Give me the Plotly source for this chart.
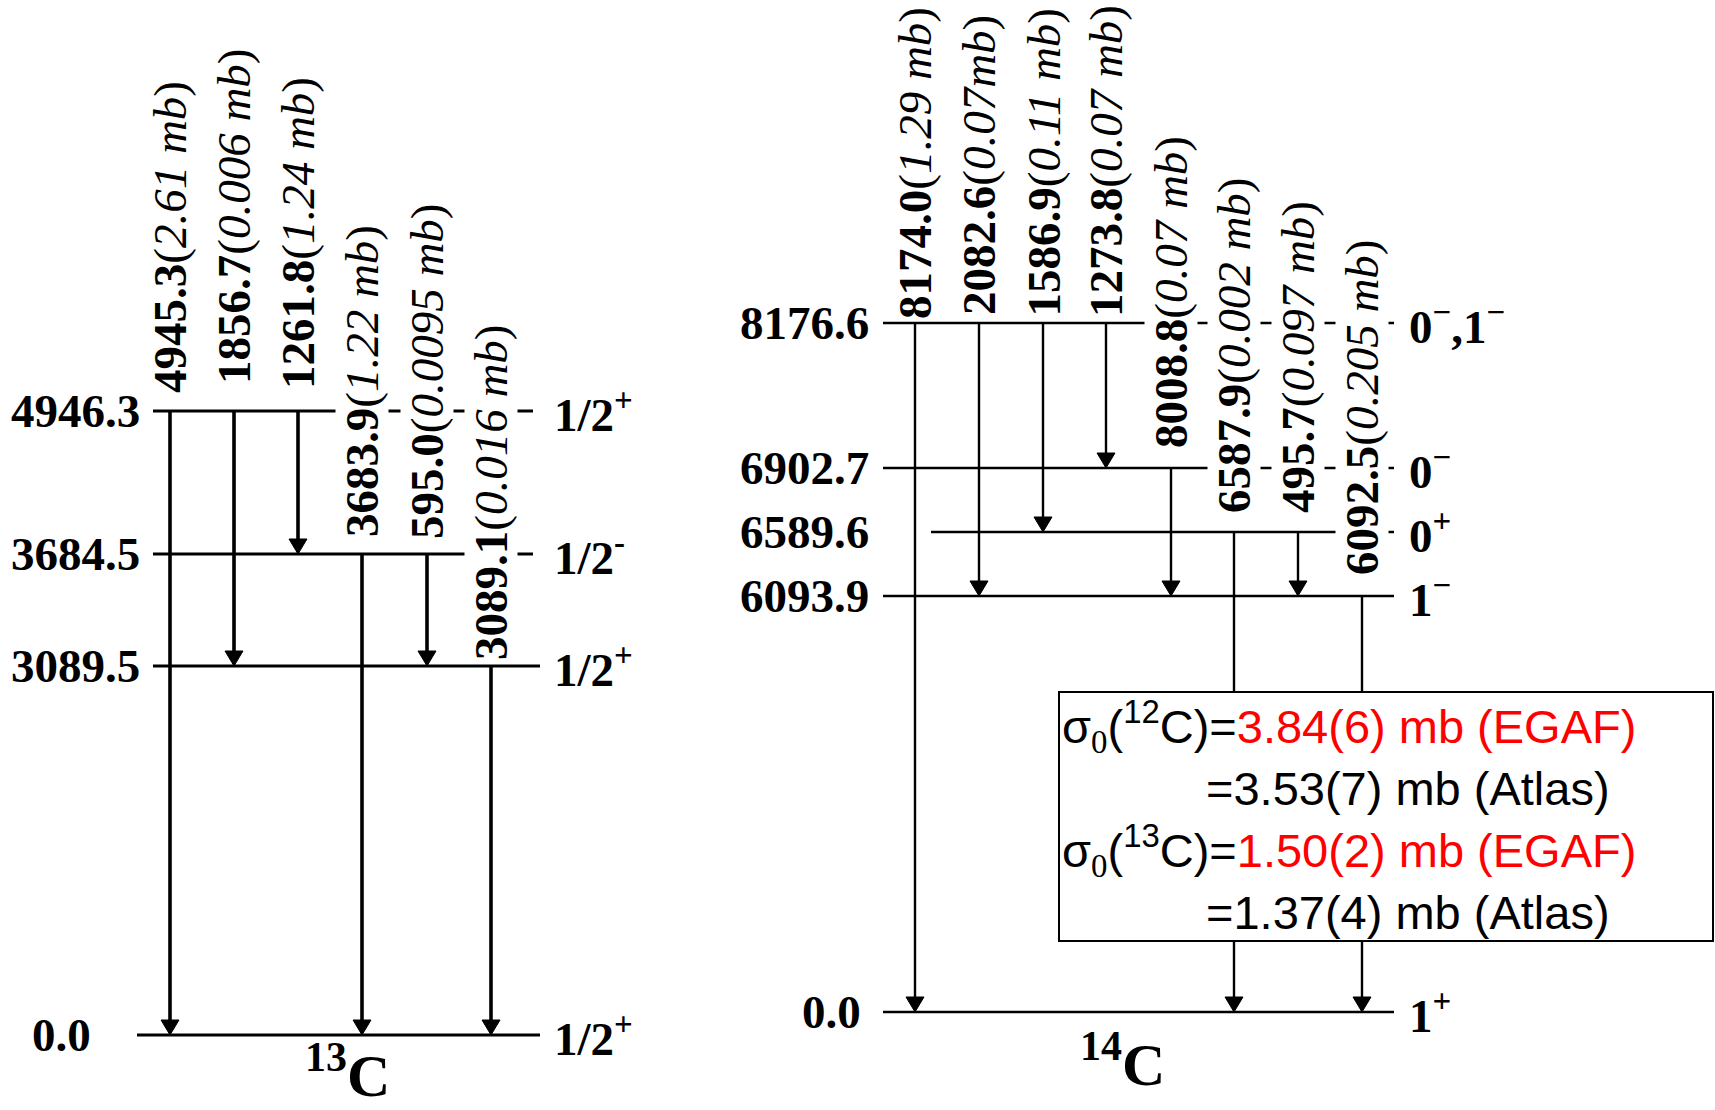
import plotly.graph_objects as go

# ------------------------------------------------------------------ data
# 13C level scheme
c13_levels = [4946.3, 3684.5, 3089.5, 0.0]
c13_spins = ["1/2<sup>+</sup>", "1/2<sup>-</sup>", "1/2<sup>+</sup>", "1/2<sup>+</sup>"]
c13_from = [4946.3, 4946.3, 4946.3, 3684.5, 3684.5, 3089.5]
c13_to = [0.0, 3089.5, 3684.5, 0.0, 3089.5, 0.0]
c13_egamma = ["4945.3", "1856.7", "1261.8", "3683.9", "595.0", "3089.1"]
c13_xsec = ["2.61 mb", "0.006 mb", "1.24 mb", "1.22 mb", "0.0095 mb", "0.016 mb"]

# 14C level scheme
c14_levels = [8176.6, 6902.7, 6589.6, 6093.9, 0.0]
c14_spins = ["0<sup>\u2212</sup>,1<sup>\u2212</sup>", "0<sup>\u2212</sup>", "0<sup>+</sup>",
             "1<sup>\u2212</sup>", "1<sup>+</sup>"]
c14_from = [8176.6, 8176.6, 8176.6, 8176.6, 6902.7, 6589.6, 6589.6, 6093.9]
c14_to = [0.0, 6093.9, 6589.6, 6902.7, 6093.9, 0.0, 6093.9, 0.0]
c14_egamma = ["8174.0", "2082.6", "1586.9", "1273.8", "8008.8", "6587.9", "495.7", "6092.5"]
c14_xsec = ["1.29 mb", "0.07mb", "0.11 mb", "0.07 mb", "0.07 mb", "0.002 mb", "0.097 mb", "0.205 mb"]

# thermal cross sections
sigma_target = ["12", "13"]
sigma_egaf = ["3.84(6) mb (EGAF)", "1.50(2) mb (EGAF)"]
sigma_atlas = ["3.53(7) mb (Atlas)", "1.37(4) mb (Atlas)"]

# ------------------------------------------------------------------ drawing layout (schematic positions)
c13_lay = dict(
    level_y=[411, 554, 666, 1035],
    level_x0=[153, 153, 153, 137],
    level_x1=[533, 533, 540, 540],
    label_right=[141, 141, 141, 92],
    spin_x=553,
    gamma_x=[170, 234, 298, 362, 427, 491],
    label_bottom=[394, 385, 390, 538, 540, 661],
    level_w=3.0, arrow_w=3.6,
)
c14_lay = dict(
    level_y=[323, 468, 532, 596, 1012],
    level_x0=[883, 883, 931, 883, 883],
    level_x1=[1394, 1394, 1394, 1394, 1394],
    label_right=[870, 870, 870, 870, 862],
    spin_x=1408,
    gamma_x=[915, 979, 1043, 1106, 1171, 1234, 1298, 1362],
    label_bottom=[320, 316, 318, 318, 449, 514, 514, 576],
    level_w=2.5, arrow_w=2.4,
)

SERIF = "Liberation Serif, Times New Roman, serif"
SANS = "Liberation Sans, Arial, sans-serif"
FS = 47
HEAD_H, HEAD_HW = 15, 9

fig = go.Figure()
annotations = []


def draw_scheme(levels, spins, frm, to, egam, xsec, lay):
    ymap = dict(zip(levels, lay["level_y"]))
    # level lines
    lx, ly = [], []
    for i, e in enumerate(levels):
        lx += [lay["level_x0"][i], lay["level_x1"][i], None]
        ly += [ymap[e], ymap[e], None]
    fig.add_trace(go.Scatter(x=lx, y=ly, mode="lines",
                             line=dict(color="black", width=lay["level_w"]),
                             hoverinfo="skip"))
    # transitions
    ax, ay, hx, hy = [], [], [], []
    for i in range(len(frm)):
        x = lay["gamma_x"][i]
        y0, y1 = ymap[frm[i]], ymap[to[i]]
        ax += [x, x, None]
        ay += [y0, y1 - HEAD_H + 2, None]
        hx += [x - HEAD_HW, x + HEAD_HW, x, x - HEAD_HW, None]
        hy += [y1 - HEAD_H, y1 - HEAD_H, y1, y1 - HEAD_H, None]
        annotations.append(dict(
            x=x, y=lay["label_bottom"][i], xref="x", yref="y",
            text=(f"<b>{egam[i]}</b>(<span style='font-style:italic;"
                  f"font-family:Liberation Serif'>{xsec[i]}</span>)"),
            textangle=-90, xanchor="center", yanchor="bottom",
            showarrow=False, bgcolor="white", borderpad=0,
            font=dict(family=SERIF, size=FS, color="black")))
    fig.add_trace(go.Scatter(x=ax, y=ay, mode="lines",
                             line=dict(color="black", width=lay["arrow_w"]),
                             hoverinfo="skip"))
    fig.add_trace(go.Scatter(x=hx, y=hy, mode="lines", fill="toself",
                             fillcolor="black", line=dict(color="black", width=1),
                             hoverinfo="skip"))
    # level energy labels & spins
    for i, e in enumerate(levels):
        annotations.append(dict(
            x=lay["label_right"][i], y=ymap[e], xref="x", yref="y",
            text=f"<b>{e:.1f}</b>", xanchor="right", yanchor="middle",
            showarrow=False, borderpad=0,
            font=dict(family=SERIF, size=FS, color="black")))
        annotations.append(dict(
            x=lay["spin_x"], y=ymap[e], xref="x", yref="y",
            text=f"<b>{spins[i]}</b>", xanchor="left", yanchor="middle",
            showarrow=False, borderpad=0,
            font=dict(family=SERIF, size=FS, color="black")))


draw_scheme(c13_levels, c13_spins, c13_from, c13_to, c13_egamma, c13_xsec, c13_lay)
draw_scheme(c14_levels, c14_spins, c14_from, c14_to, c14_egamma, c14_xsec, c14_lay)

# nucleus names
annotations.append(dict(x=347, y=1110, xref="x", yref="y", text="<b><sup>13</sup>C</b>",
                        xanchor="center", yanchor="bottom", showarrow=False, borderpad=0,
                        font=dict(family=SERIF, size=60, color="black")))
annotations.append(dict(x=1122, y=1060, xref="x", yref="y", text="<b><sup>14</sup>C</b>",
                        xanchor="center", yanchor="middle", showarrow=False,
                        font=dict(family=SERIF, size=60, color="black")))

# cross-section box
fig.add_shape(type="rect", x0=1059, x1=1713, y0=692, y1=941, xref="x", yref="y",
              line=dict(color="black", width=2), fillcolor="white", layer="above")
row_y = [726, 788, 850, 912]
for k in range(len(sigma_target)):
    annotations.append(dict(
        x=1061, y=row_y[2 * k], xref="x", yref="y",
        text=(f"\u03c3<sub><span style='font-family:Liberation Serif'>0</span></sub>"
              f"(<sup>{sigma_target[k]}</sup>C)="
              f"<span style='color:#ff0000'>{sigma_egaf[k]}</span>"),
        xanchor="left", yanchor="middle", showarrow=False, borderpad=0,
        font=dict(family=SANS, size=47, color="black")))
    annotations.append(dict(
        x=1205, y=row_y[2 * k + 1], xref="x", yref="y",
        text=f"={sigma_atlas[k]}",
        xanchor="left", yanchor="middle", showarrow=False, borderpad=0,
        font=dict(family=SANS, size=47, color="black")))

fig.update_layout(
    width=1715, height=1110,
    margin=dict(l=0, r=0, t=0, b=0),
    paper_bgcolor="white", plot_bgcolor="white",
    showlegend=False,
    xaxis=dict(range=[0, 1715], visible=False, fixedrange=True),
    yaxis=dict(range=[1110, 0], visible=False, fixedrange=True),
    annotations=annotations,
)

fig.write_html("out.html", config={"displayModeBar": False},
               post_script="document.body.style.margin='0';")
